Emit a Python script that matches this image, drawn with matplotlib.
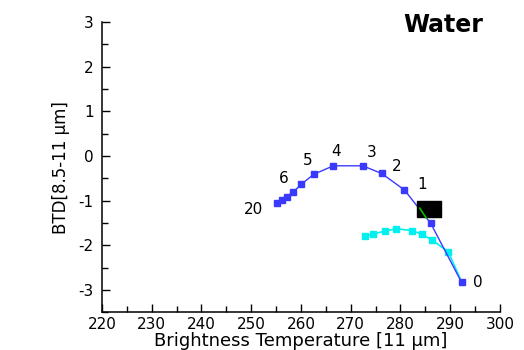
#!/usr/bin/env python3
"""BTD(8.5-11 um) vs brightness temperature (11 um) for a water cloud."""
import matplotlib
matplotlib.use("Agg")
import matplotlib.pyplot as plt
from matplotlib.ticker import MultipleLocator

plt.rcParams["axes.unicode_minus"] = False

# ── data ──────────────────────────────────────────────────────────────────────
BLUE_BT = [255.1, 256.1, 257.1, 258.5, 260.1, 262.6, 266.5, 272.4, 276.2, 280.8, 286.1, 292.3]
BLUE_BTD = [-1.05, -0.98, -0.91, -0.80, -0.63, -0.41, -0.22, -0.22, -0.39, -0.76, -1.51, -2.83]

CYAN_BT = [272.9, 274.5, 276.9, 279.2, 282.3, 284.3, 286.3, 289.6, 292.0]
CYAN_BTD = [-1.79, -1.75, -1.68, -1.63, -1.67, -1.75, -1.88, -2.14, -2.74]

GREEN_BT = [283.9, 285.2]
GREEN_BTD = [-1.17, -1.39]

OBS_BT = [285.7]
OBS_BTD = [-1.19]

# optical thickness labels and the blue point index they belong to
LABELS = ["20", "6", "5", "4", "3", "2", "1", "0"]
LABEL_IDX = [0, 3, 5, 6, 7, 8, 9, 11]
LABEL_OFF = [(-23, -7), (-10, 13), (-6, 14), (3, 14), (9, 13), (15, 7), (18, 5), (16, 0)]

BLUE = "#3a3aff"
CYAN = "#00f0f0"

# wide, flat box marker for the observation
BOX = [(-1.5, -1), (1.5, -1), (1.5, 1), (-1.5, 1), (-1.5, -1)]

# ── figure ────────────────────────────────────────────────────────────────────
fig = plt.figure(figsize=(5.24, 3.5), dpi=100)
ax = fig.add_axes([0.1947, 0.1077, 0.7593, 0.8295])

ax.plot(CYAN_BT, CYAN_BTD, color=CYAN, lw=1.2, marker="s", ms=5,
        markevery=slice(0, -1), zorder=2)
ax.plot(BLUE_BT, BLUE_BTD, color=BLUE, lw=1.0, marker="s", ms=4.5, zorder=3)
ax.plot(OBS_BT, OBS_BTD, marker=BOX, color="black", ms=17, ls="none", zorder=4)
ax.plot(GREEN_BT, GREEN_BTD, color="#00c000", lw=1.2, zorder=5)

for lab, i, off in zip(LABELS, LABEL_IDX, LABEL_OFF):
    ax.annotate(lab, (BLUE_BT[i], BLUE_BTD[i]), xytext=off,
                textcoords="offset pixels", ha="center", va="center",
                fontsize=11)

ax.text(0.857, 0.99, "Water", transform=ax.transAxes, ha="center", va="center",
        fontsize=17, fontweight="bold")

ax.set_xlim(220, 300)
ax.set_ylim(-3.5, 3)
ax.xaxis.set_major_locator(MultipleLocator(10))
ax.xaxis.set_minor_locator(MultipleLocator(5))
ax.yaxis.set_major_locator(MultipleLocator(1))
ax.yaxis.set_minor_locator(MultipleLocator(0.5))
ax.tick_params(which="both", direction="in", width=1.0, labelsize=11,
               top=False, right=False)
ax.tick_params(which="major", length=6)
ax.tick_params(which="minor", length=4)
ax.tick_params(axis="y", pad=6)

ax.spines[["top", "right"]].set_visible(False)
ax.spines[["left", "bottom"]].set_linewidth(1.1)

ax.set_xlabel("Brightness Temperature [11 μm]", fontsize=13, labelpad=0)
ax.set_ylabel("BTD[8.5-11 μm]", fontsize=12, labelpad=6)

fig.savefig("out.png", dpi=100)
